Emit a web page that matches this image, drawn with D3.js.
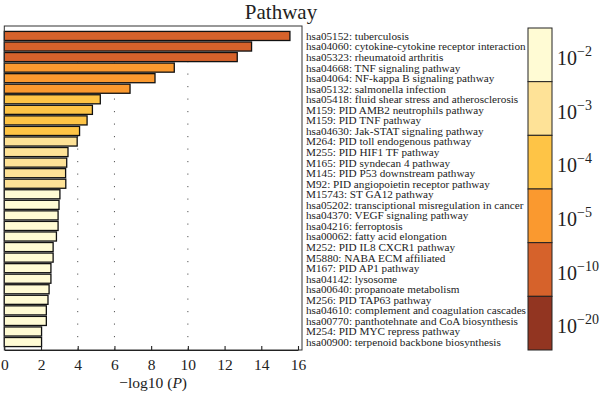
<!DOCTYPE html>
<html>
<head>
<meta charset="utf-8">
<script src="https://cdn.jsdelivr.net/npm/d3@7/dist/d3.min.js"></script>
<style>
  html, body { margin: 0; padding: 0; background: #fff; }
  svg { display: block; font-family: "Liberation Serif", "DejaVu Serif", serif; }
</style>
</head>
<body>
<svg id="chart" width="600" height="396"></svg>
<script>
const categories = [
  "hsa05152: tuberculosis",
  "hsa04060: cytokine-cytokine receptor interaction",
  "hsa05323: rheumatoid arthritis",
  "hsa04668: TNF signaling pathway",
  "hsa04064: NF-kappa B signaling pathway",
  "hsa05132: salmonella infection",
  "hsa05418: fluid shear stress and atherosclerosis",
  "M159: PID AMB2 neutrophils pathway",
  "M159: PID TNF pathway",
  "hsa04630: Jak-STAT signaling pathway",
  "M264: PID toll endogenous pathway",
  "M255: PID HIF1 TF pathway",
  "M165: PID syndecan 4 pathway",
  "M145: PID P53 downstream pathway",
  "M92: PID angiopoietin receptor pathway",
  "M15743: ST GA12 pathway",
  "hsa05202: transciptional misregulation in cancer",
  "hsa04370: VEGF signaling pathway",
  "hsa04216: ferroptosis",
  "hsa00062: fatty acid elongation",
  "M252: PID IL8 CXCR1 pathway",
  "M5880: NABA ECM affiliated",
  "M167: PID AP1 pathway",
  "hsa04142: lysosome",
  "hsa00640: propanoate metabolism",
  "M256: PID TAP63 pathway",
  "hsa04610: complement and coagulation cascades",
  "hsa00770: panthotehnate and CoA biosynthesis",
  "M254: PID MYC repress pathway",
  "hsa00900: terpenoid backbone biosynthesis"
];
const values = [15.56, 13.47, 12.69, 9.26, 8.21, 6.85, 5.23, 4.80, 4.51, 4.10,
                3.97, 3.47, 3.40, 3.34, 3.35, 3.03, 2.98, 2.93, 2.93, 2.84,
                2.66, 2.66, 2.54, 2.54, 2.44, 2.38, 2.29, 2.29, 2.03, 2.03];
// colour class index per bar (0 = 10^-2 ... 5 = 10^-20)
const colorClass = [4,4,4,3,3,3,2,2,2,2,1,1,1,1,1,0,0,0,0,0,0,0,0,0,0,0,0,0,0,0];
const legendExponents = ["−2", "−3", "−4", "−5", "−10", "−20"];
const legendColors = ["#fffbd4", "#fee297", "#fec446", "#fa992f", "#d6622b", "#923521"];
const xTicks = [0, 2, 4, 6, 8, 10, 12, 14, 16];
const gridValues = [4, 6, 10];

const svg = d3.select("#chart");
const m = {left: 4.3, right: 302, top: 26, bottom: 350};

const x = d3.scaleLinear().domain([0, 16]).range([m.left, 298]);
const y = d3.scaleBand().domain(categories).range([31, 347]).paddingInner(0.14).paddingOuter(0.04);

// gridlines
svg.append("g").selectAll("line").data(gridValues).join("line")
  .attr("x1", d => x(d)).attr("x2", d => x(d))
  .attr("y1", 36).attr("y2", m.bottom)
  .attr("stroke", "#555").attr("stroke-width", 1)
  .attr("stroke-dasharray", "1.2 11.3");

// bars
svg.append("g").selectAll("rect").data(values).join("rect")
  .attr("x", x(0))
  .attr("y", (d, i) => y(categories[i]))
  .attr("width", d => x(d) - x(0))
  .attr("height", y.bandwidth())
  .attr("fill", (d, i) => legendColors[colorClass[i]])
  .attr("stroke", "#111").attr("stroke-width", 1.3);

// frame
svg.append("rect")
  .attr("x", m.left).attr("y", m.top)
  .attr("width", m.right - m.left).attr("height", m.bottom - m.top)
  .attr("fill", "none").attr("stroke", "#333").attr("stroke-width", 1);

// x axis
const xAxis = d3.axisBottom(x).tickValues(xTicks).tickSizeInner(-4).tickSizeOuter(0).tickPadding(9);
const ax = svg.append("g").attr("transform", `translate(0,${m.bottom})`).call(xAxis);
ax.select(".domain").attr("stroke", "#222").attr("stroke-width", 1.2);
ax.selectAll(".tick line").attr("stroke", "#222").attr("stroke-width", 1.1);
ax.selectAll(".tick text").attr("font-size", 15.5).attr("font-family", "Liberation Serif, serif").attr("fill", "#222");

// x axis title
const xt = svg.append("text").attr("x", (m.left + m.right) / 2).attr("y", 388)
  .attr("text-anchor", "middle").attr("font-size", 15.5).attr("fill", "#222");
xt.append("tspan").text("−log10 (");
xt.append("tspan").attr("font-style", "italic").text("P");
xt.append("tspan").text(")");

// title
svg.append("text").attr("x", 281).attr("y", 19).attr("text-anchor", "middle")
  .attr("font-size", 21).attr("fill", "#222").text("Pathway");

// labels
svg.append("g").selectAll("text").data(categories).join("text")
  .attr("x", 306)
  .attr("y", d => y(d) + y.bandwidth() / 2)
  .attr("dy", "0.35em")
  .attr("font-size", 11.2).attr("fill", "#222")
  .text(d => d);

// colour legend
const ly = d3.scaleBand().domain(legendExponents).range([28, 350]);
const lg = svg.append("g");
lg.selectAll("rect").data(legendExponents).join("rect")
  .attr("x", 528).attr("y", d => ly(d)).attr("width", 24).attr("height", ly.bandwidth())
  .attr("fill", (d, i) => legendColors[i]).attr("stroke", "#222").attr("stroke-width", 1);
const lt = lg.selectAll("text").data(legendExponents).join("text")
  .attr("x", 557).attr("y", d => ly(d) + ly.bandwidth() / 2 + 10)
  .attr("font-size", 20).attr("fill", "#222");
lt.append("tspan").text("10");
lt.append("tspan").attr("font-size", 14).attr("dy", -9).text(d => d);
</script>
</body>
</html>
